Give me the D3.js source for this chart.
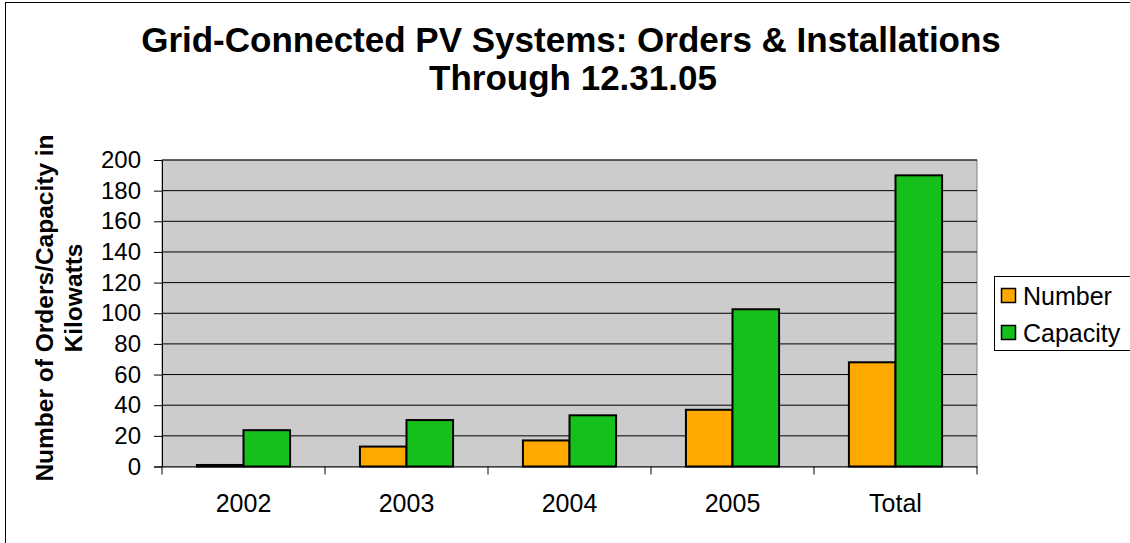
<!DOCTYPE html>
<html>
<head>
<meta charset="utf-8">
<script src="https://cdn.jsdelivr.net/npm/d3@7"></script>
<style>
  body { margin: 0; background: #fff; overflow: hidden; }
  text { font-family: "Liberation Sans", Arial, sans-serif; }
</style>
</head>
<body>
<div id="chart"></div>
<script>
const categories = ["2002", "2003", "2004", "2005", "Total"];
const seriesNames = ["Number", "Capacity"];
const numberValues = [1, 13, 17, 37, 68];
const capacityValues = [23.7, 30.3, 33.4, 102.6, 190];
const yTicks = [0, 20, 40, 60, 80, 100, 120, 140, 160, 180, 200];
const colors = ["#ffa800", "#15c01a"];

const width = 1130, height = 543;
const plot = {left: 162, right: 977, top: 160, bottom: 466.5};

let svg = d3.select("#chart")
            .append("svg")
            .attr("width", width)
            .attr("height", height);

// outer frame (only left and top edges fall inside the picture)
svg.append("rect")
  .attr("x", 5.5).attr("y", 2.5)
  .attr("width", 1140).attr("height", 560)
  .attr("fill", "#fff")
  .attr("stroke", "#000")
  .attr("stroke-width", 1);

// title
svg.append("text")
  .attr("x", 571).attr("y", 52)
  .attr("text-anchor", "middle")
  .attr("font-size", 35).attr("font-weight", "bold")
  .text("Grid-Connected PV Systems: Orders & Installations");
svg.append("text")
  .attr("x", 573).attr("y", 90)
  .attr("text-anchor", "middle")
  .attr("font-size", 35).attr("font-weight", "bold")
  .text("Through 12.31.05");

let x = d3.scaleBand()
  .domain(categories)
  .range([plot.left, plot.right]);

let xInner = d3.scaleBand()
  .domain(seriesNames)
  .range([0, x.bandwidth()])
  .paddingOuter(0.75);

let y = d3.scaleLinear()
  .domain([0, 200])
  .range([plot.bottom, plot.top]);

// plot background
svg.append("rect")
  .attr("x", plot.left).attr("y", plot.top)
  .attr("width", plot.right - plot.left)
  .attr("height", plot.bottom - plot.top)
  .attr("fill", "#cccccc")
  .attr("stroke", "#808080");

// gridlines
svg.selectAll(".grid")
  .data(yTicks.filter(d => d > 0))
  .enter()
  .append("line")
  .attr("x1", plot.left).attr("x2", plot.right)
  .attr("y1", d => y(d)).attr("y2", d => y(d))
  .attr("stroke", "#000")
  .attr("stroke-width", 1);

// bars
let rows = categories.map((c, i) => ({cat: c, vals: [numberValues[i], capacityValues[i]]}));
let groups = svg.selectAll(".grp")
  .data(rows)
  .enter()
  .append("g")
  .attr("transform", d => `translate(${x(d.cat)},0)`);

groups.selectAll("rect")
  .data(d => d.vals.map((v, j) => ({name: seriesNames[j], v: v, j: j})))
  .enter()
  .append("rect")
  .attr("x", d => xInner(d.name))
  .attr("width", xInner.bandwidth())
  .attr("y", d => y(d.v))
  .attr("height", d => y(0) - y(d.v))
  .attr("fill", d => colors[d.j])
  .attr("stroke", "#000")
  .attr("stroke-width", 2);

// y axis
let yAxis = svg.append("g")
  .attr("transform", `translate(${plot.left},0)`)
  .call(d3.axisLeft(y).tickValues(yTicks).tickSize(8).tickPadding(13));
yAxis.selectAll("text").attr("font-size", 24).attr("fill", "#000")
  .style("font-family", "'Liberation Sans', Arial, sans-serif");
yAxis.selectAll("line, path").attr("stroke", "#000");

// x axis
let xAxis = svg.append("g")
  .attr("transform", `translate(0,${plot.bottom})`)
  .call(d3.axisBottom(x).tickSize(0).tickPadding(28));
xAxis.selectAll("text").attr("font-size", 25).attr("fill", "#000")
  .style("font-family", "'Liberation Sans', Arial, sans-serif");
xAxis.select("path").attr("stroke", "#000");
xAxis.selectAll(".sep")
  .data(categories.map(c => x(c)).concat([plot.right]))
  .enter()
  .append("line")
  .attr("x1", d => d).attr("x2", d => d)
  .attr("y1", 0).attr("y2", 8)
  .attr("stroke", "#000");

// y label
svg.append("text")
  .attr("transform", "translate(53,308) rotate(-90)")
  .attr("text-anchor", "middle")
  .attr("font-size", 24.5).attr("font-weight", "bold")
  .text("Number of Orders/Capacity in");
svg.append("text")
  .attr("transform", "translate(81.5,298) rotate(-90)")
  .attr("text-anchor", "middle")
  .attr("font-size", 24.5).attr("font-weight", "bold")
  .text("Kilowatts");

// legend
let legend = svg.append("g");
legend.append("rect")
  .attr("x", 994.5).attr("y", 276.5)
  .attr("width", 150).attr("height", 74)
  .attr("fill", "#fff").attr("stroke", "#000");
let li = legend.selectAll(".li")
  .data(seriesNames)
  .enter()
  .append("g")
  .attr("transform", (d, i) => `translate(1001.5,${288.5 + i * 37})`);
li.append("rect")
  .attr("width", 14).attr("height", 14)
  .attr("fill", (d, i) => colors[i])
  .attr("stroke", "#000").attr("stroke-width", 1.5);
li.append("text")
  .attr("x", 21.5).attr("y", 16)
  .attr("font-size", 25)
  .text(d => d);
</script>
</body>
</html>
